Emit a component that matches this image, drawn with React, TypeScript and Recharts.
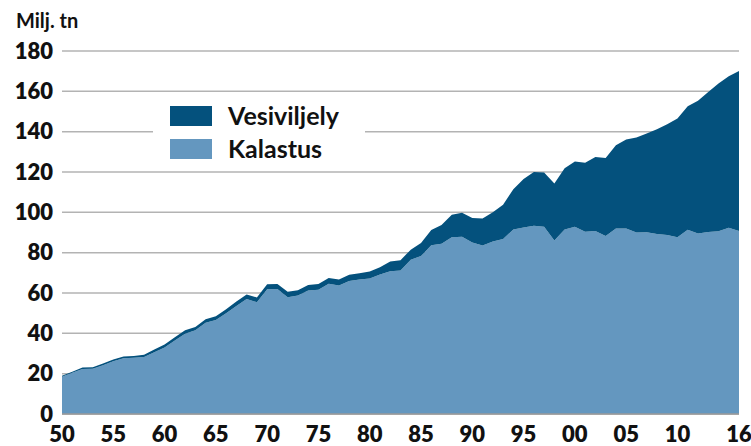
import { AreaChart, Area, XAxis, YAxis, CartesianGrid } from 'recharts';

const years = [
  1950, 1951, 1952, 1953, 1954, 1955, 1956, 1957, 1958, 1959,
  1960, 1961, 1962, 1963, 1964, 1965, 1966, 1967, 1968, 1969,
  1970, 1971, 1972, 1973, 1974, 1975, 1976, 1977, 1978, 1979,
  1980, 1981, 1982, 1983, 1984, 1985, 1986, 1987, 1988, 1989,
  1990, 1991, 1992, 1993, 1994, 1995, 1996, 1997, 1998, 1999,
  2000, 2001, 2002, 2003, 2004, 2005, 2006, 2007, 2008, 2009,
  2010, 2011, 2012, 2013, 2014, 2015, 2016,
];

// Kalastus (capture), milj. tn
const kalastus = [
  18.5, 20.5, 22.3, 22.5, 24.2, 26.2, 27.6, 27.9, 28.3, 30.6,
  33.0, 36.5, 39.8, 41.5, 45.2, 46.6, 50.0, 53.6, 57.0, 55.4,
  61.8, 62.0, 57.9, 58.7, 61.2, 61.6, 64.6, 63.7, 66.0, 66.7,
  67.2, 69.2, 70.8, 71.2, 76.5, 78.3, 83.7, 84.4, 87.6, 87.9,
  85.0, 83.5, 85.5, 86.8, 91.5, 92.5, 93.3, 92.8, 86.0, 91.5,
  92.8, 90.4, 90.8, 88.3, 92.0, 92.0, 90.0, 90.1, 89.3, 88.8,
  87.6, 91.4, 89.5, 90.2, 90.6, 92.4, 90.8,
];

// Vesiviljely (aquaculture), milj. tn
const vesiviljely = [
  0.5, 0.5, 0.7, 0.7, 0.8, 0.8, 0.9, 0.9, 1.1, 1.4,
  1.5, 1.5, 1.7, 1.7, 1.8, 1.9, 2.0, 2.2, 2.3, 2.4,
  2.5, 2.5, 2.7, 2.7, 2.8, 2.9, 2.9, 3.0, 3.0, 3.1,
  3.4, 3.6, 4.8, 5.1, 5.0, 6.5, 7.5, 9.3, 11.2, 11.9,
  12.2, 13.5, 14.5, 17.0, 20.0, 24.0, 26.7, 27.0, 28.3, 30.3,
  32.4, 34.2, 36.7, 38.7, 41.3, 44.1, 47.1, 49.0, 51.9, 54.9,
  58.9, 61.2, 65.8, 69.5, 73.3, 75.1, 79.3,
];

const xTicks = [1950, 1955, 1960, 1965, 1970, 1975, 1980, 1985, 1990, 1995, 2000, 2005, 2010, 2016];
const yTicks = [0, 20, 40, 60, 80, 100, 120, 140, 160, 180];

const DARK = '#04517d';
const LIGHT = '#6497bf';
const FONT = 'Lato, "Open Sans", sans-serif';

const data = years.map((y, i) => ({ year: y, kalastus: kalastus[i], vesiviljely: vesiviljely[i] }));

export default function App() {
  return (
    <div style={{ position: 'absolute', left: 0, top: 0, width: 751, height: 446, background: '#fff', fontFamily: FONT, overflow: 'hidden' }}>
      <AreaChart width={751} height={446} data={data} margin={{ top: 51, right: 12, left: 0, bottom: 0 }}>
        <CartesianGrid vertical={false} stroke="#b3b3b3" strokeWidth={1.5} />
        <XAxis
          dataKey="year"
          type="number"
          domain={[1950, 2016]}
          ticks={xTicks}
          interval={0}
          height={32}
          tickSize={0}
          tickMargin={12}
          tickFormatter={(v: number) => String(v % 100).padStart(2, '0')}
          tick={{ fontSize: 22, fontWeight: 800, fill: '#111', fontFamily: FONT }}
          axisLine={{ stroke: '#9a9a9a', strokeWidth: 1.5 }}
          tickLine={false}
        />
        <YAxis
          domain={[0, 180]}
          ticks={yTicks}
          interval={0}
          width={62}
          tickSize={0}
          tickMargin={9}
          tick={{ fontSize: 22, fontWeight: 800, fill: '#111', fontFamily: FONT }}
          axisLine={false}
          tickLine={false}
        />
        <Area type="linear" dataKey="kalastus" stackId="a" stroke="none" fill={LIGHT} fillOpacity={1} isAnimationActive={false} />
        <Area type="linear" dataKey="vesiviljely" stackId="a" stroke="none" fill={DARK} fillOpacity={1} isAnimationActive={false} />
      </AreaChart>

      <div style={{ position: 'absolute', left: 16, top: 8, fontSize: 20, fontWeight: 700, color: '#111' }}>Milj. tn</div>

      <div style={{ position: 'absolute', left: 153, top: 98, width: 212, height: 70, background: '#fff' }}>
        <div style={{ position: 'absolute', left: 17, top: 8, width: 42, height: 20, background: DARK }} />
        <div style={{ position: 'absolute', left: 75, top: 1, fontSize: 25, fontWeight: 700, color: '#111', lineHeight: '32px' }}>Vesiviljely</div>
        <div style={{ position: 'absolute', left: 17, top: 41, width: 42, height: 20, background: LIGHT }} />
        <div style={{ position: 'absolute', left: 75, top: 34, fontSize: 25, fontWeight: 700, color: '#111', lineHeight: '32px' }}>Kalastus</div>
      </div>
    </div>
  );
}
